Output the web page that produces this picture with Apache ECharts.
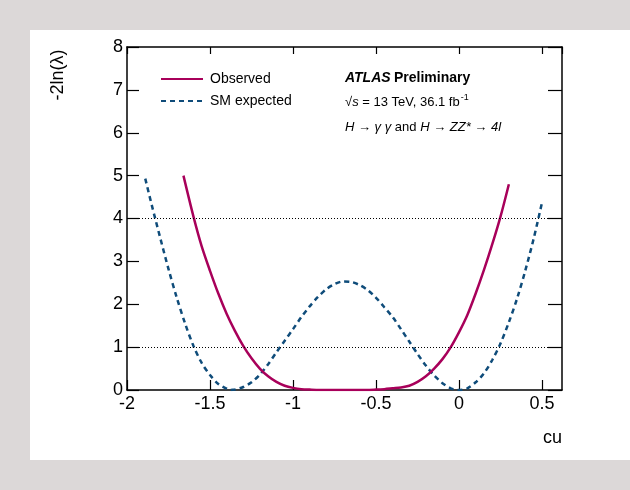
<!DOCTYPE html>
<html><head><meta charset="utf-8">
<script src="https://cdn.jsdelivr.net/npm/echarts@6/dist/echarts.min.js"></script>
<style>html,body{margin:0;padding:0;background:#dcd8d8}#c{width:630px;height:490px}</style>
</head><body><div id="c"></div>
<script>
// Observed curve: cu, -2ln(lambda)
const obsX = [-1.66,-1.60,-1.55,-1.50,-1.45,-1.40,-1.35,-1.30,-1.25,-1.20,-1.15,-1.10,-1.05,-1.00,-0.95,-0.90,-0.80,-0.70,-0.60,-0.50,-0.45,-0.40,-0.35,-0.30,-0.25,-0.20,-0.15,-0.10,-0.05,0.00,0.05,0.10,0.15,0.20,0.25,0.30];
const obsY = [5.0,4.05,3.35,2.78,2.25,1.78,1.38,1.03,0.74,0.5,0.32,0.19,0.1,0.05,0.02,0.01,0.0,0.0,0.0,0.01,0.02,0.04,0.06,0.1,0.19,0.32,0.5,0.72,1.0,1.35,1.75,2.25,2.8,3.4,4.05,4.8];
// SM expected curve
const expX = [-1.89,-1.85,-1.80,-1.75,-1.70,-1.65,-1.60,-1.55,-1.50,-1.45,-1.40,-1.38,-1.35,-1.30,-1.25,-1.20,-1.15,-1.10,-1.05,-1.00,-0.95,-0.90,-0.85,-0.80,-0.75,-0.70,-0.65,-0.60,-0.55,-0.50,-0.45,-0.40,-0.35,-0.30,-0.25,-0.20,-0.15,-0.10,-0.05,0.00,0.05,0.10,0.15,0.20,0.25,0.30,0.35,0.40,0.45,0.50];
const expY = [4.93,4.3,3.55,2.82,2.15,1.55,1.03,0.63,0.35,0.14,0.03,0.0,0.01,0.07,0.18,0.36,0.6,0.88,1.15,1.42,1.7,1.95,2.17,2.35,2.47,2.53,2.52,2.45,2.33,2.15,1.93,1.7,1.42,1.13,0.84,0.57,0.34,0.16,0.04,0.0,0.04,0.18,0.39,0.7,1.09,1.58,2.14,2.8,3.54,4.38];
const refLevels = [1, 4];
const xTicks = [-2, -1.5, -1, -0.5, 0, 0.5];
const yTicks = [0,1,2,3,4,5,6,7,8];

const zip = (a,b) => a.map((v,i)=>[v,b[i]]);
const FONT = '"Liberation Sans", Arial, sans-serif';
const chart = echarts.init(document.getElementById('c'), null, {renderer:'canvas'});
const axisBase = {
  type:'value', axisLine:{show:true,onZero:false,lineStyle:{color:'#000',width:1.5}},
  splitLine:{show:false}, axisTick:{inside:true,lineStyle:{color:'#000',width:1.2}}
};
chart.setOption({
  backgroundColor:'#dcd8d8',
  animation:false,
  grid:{left:127,right:68,top:47,bottom:100},
  graphic:[
    {type:'rect',z:-10,silent:true,shape:{x:30,y:30,width:600,height:430},style:{fill:'#fff'}},
    {type:'text',x:58,y:75,rotation:Math.PI/2,style:{text:'-2ln(λ)',font:'18px '+FONT,fill:'#000',align:'center',verticalAlign:'middle'}},
    {type:'text',x:562,y:438,style:{text:'cu',font:'18px '+FONT,fill:'#000',align:'right',verticalAlign:'middle'}},
    {type:'text',x:345,y:78,style:{text:'{bi|ATLAS} {b|Preliminary}',verticalAlign:'middle',
      rich:{bi:{fontStyle:'italic',fontWeight:'bold',fontSize:14,fontFamily:FONT},b:{fontWeight:'bold',fontSize:14,fontFamily:FONT}}}},
    {type:'text',x:345,y:102,style:{text:'√{i|s} = 13 TeV, 36.1 fb{sup|-1}',verticalAlign:'middle',font:'13px '+FONT,fill:'#000',
      rich:{i:{fontStyle:'italic',fontSize:13,fontFamily:FONT},sup:{fontSize:9,fontFamily:FONT,padding:[0,0,8,1]}}}},
    {type:'text',x:345,y:127,style:{text:'{i|H} → {i|γ γ} and {i|H} → {i|ZZ*} → {i|4l}',verticalAlign:'middle',font:'13px '+FONT,fill:'#000',
      rich:{i:{fontStyle:'italic',fontSize:13,fontFamily:FONT}}}}
  ],
  legend:{
    orient:'vertical',left:155,top:67,itemWidth:42,itemHeight:14,itemGap:8,
    itemStyle:{opacity:0},
    textStyle:{fontSize:14,fontFamily:FONT,color:'#000',padding:[0,0,0,2]},
    data:['Observed','SM expected']
  },
  xAxis:[
    Object.assign({},axisBase,{position:'bottom',min:-2,max:0.62,interval:0.5,
      axisTick:{inside:true,length:10,lineStyle:{color:'#000',width:1.2}},
      axisLabel:{fontSize:18,fontFamily:FONT,color:'#000',margin:5,showMaxLabel:false,
        formatter:v=>xTicks.includes(+v.toFixed(2))?String(+v.toFixed(2)):''}}),
    Object.assign({},axisBase,{position:'top',min:-2,max:0.62,interval:0.5,
      axisTick:{inside:true,length:7,lineStyle:{color:'#000',width:1.2}},axisLabel:{show:false}})
  ],
  yAxis:[
    Object.assign({},axisBase,{position:'left',min:0,max:8,interval:1,
      axisTick:{inside:true,length:12,lineStyle:{color:'#000',width:1.2}},
      axisLabel:{fontSize:18,fontFamily:FONT,color:'#000',margin:4,
        formatter:v=>yTicks.includes(v)?String(v):''}}),
    Object.assign({},axisBase,{position:'right',min:0,max:8,interval:1,
      axisTick:{inside:true,length:14,lineStyle:{color:'#000',width:1.2}},axisLabel:{show:false}})
  ],
  series:[
    {name:'Observed',type:'line',smooth:0.3,symbol:'none',data:zip(obsX,obsY),
      lineStyle:{color:'#a8005a',width:2.5},itemStyle:{color:'#a8005a'},z:3,
      markLine:{silent:true,symbol:'none',label:{show:false},
        lineStyle:{type:[1,2],color:'#000',width:1.2},data:refLevels.map(v=>({yAxis:v}))}},
    {name:'SM expected',type:'line',smooth:0.3,symbol:'none',data:zip(expX,expY),
      lineStyle:{color:'#0f4c7a',width:2.5,type:[5,4]},itemStyle:{color:'#0f4c7a'},z:2}
  ]
});
</script></body></html>
